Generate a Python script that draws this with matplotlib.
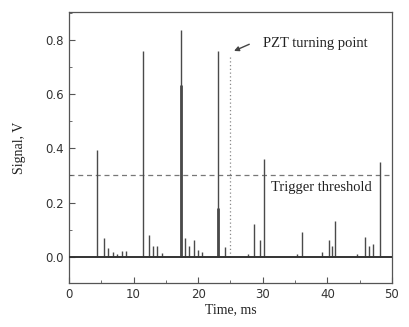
import matplotlib
matplotlib.use("Agg")
import matplotlib.pyplot as plt
from matplotlib.ticker import MultipleLocator

# Spike times (ms) and peak heights (V)
spike_t = [4.4, 5.4, 6.05, 6.8, 7.45, 8.2, 8.8,
           11.4, 12.35, 13.0, 13.6, 14.4,
           17.4, 17.9, 18.5, 19.4, 20.0, 20.6,
           23.1, 24.2, 27.7, 28.7, 29.5, 30.25,
           35.3, 36.1, 39.1, 40.3, 40.7, 41.2,
           44.6, 45.8, 46.4, 47.0, 48.2]
spike_v = [0.395, 0.068, 0.03, 0.015, 0.01, 0.02, 0.02,
           0.76, 0.08, 0.038, 0.038, 0.012,
           0.838, 0.07, 0.038, 0.063, 0.025, 0.015,
           0.76, 0.035, 0.01, 0.12, 0.062, 0.36,
           0.01, 0.09, 0.015, 0.06, 0.04, 0.13,
           0.01, 0.073, 0.04, 0.048, 0.35]
# Thick (dense) lower parts of two spikes
thick_t = [17.4, 23.1]
thick_v = [0.635, 0.18]

threshold = 0.30
pzt_t = 24.85
pzt_v = 0.737

xticks = [0, 10, 20, 30, 40, 50]
yticks = [0.0, 0.2, 0.4, 0.6, 0.8]

fig = plt.figure(figsize=(4.09, 3.27), dpi=100)
ax = fig.add_axes([0.1687, 0.1346, 0.7897, 0.8284])

col = "#4a4a4a"
ax.axhline(0, color="#333333", lw=1.4, zorder=3)
ax.vlines(spike_t, 0, spike_v, color=col, lw=1.0, zorder=2)
ax.vlines(thick_t, 0, thick_v, color=col, lw=2.0, zorder=2)
ax.axhline(threshold, color="#777777", lw=0.9, ls=(0, (4, 3)), zorder=1)
ax.vlines([pzt_t], 0, pzt_v, color="#888888", lw=0.9, ls=(0, (1, 2)), zorder=1)

ax.annotate("", xy=(pzt_t + 0.3, pzt_v + 0.02), xytext=(28.3, 0.79),
            arrowprops=dict(arrowstyle="-|>", color="#444444", lw=1.0,
                            mutation_scale=7))
ax.text(30.0, 0.79, "PZT turning point", family="Liberation Serif",
        fontsize=10.5, va="center", ha="left", color="#222222")
ax.text(31.3, 0.255, "Trigger threshold", family="Liberation Serif",
        fontsize=10.5, va="center", ha="left", color="#222222")

ax.set_xlim(0, 50)
ax.set_ylim(-0.098, 0.905)
ax.set_xticks(xticks)
ax.set_yticks(yticks)
ax.set_xticklabels([str(v) for v in xticks])
ax.set_yticklabels([f"{v:.1f}" for v in yticks])
ax.xaxis.set_minor_locator(MultipleLocator(5))
ax.yaxis.set_minor_locator(MultipleLocator(0.1))
ax.tick_params(which="both", direction="in", top=False, right=False,
               colors="#555555", labelcolor="#333333", labelsize=8.5)
ax.tick_params(which="major", length=4)
ax.tick_params(which="minor", length=2)
for s in ax.spines.values():
    s.set_color("#555555")
    s.set_linewidth(0.9)

ax.set_xlabel("Time, ms", family="Liberation Serif", fontsize=10, color="#222222", labelpad=2)
ax.set_ylabel("Signal, V", family="Liberation Serif", fontsize=10, color="#222222", labelpad=14)

fig.savefig("out.png", dpi=100)
